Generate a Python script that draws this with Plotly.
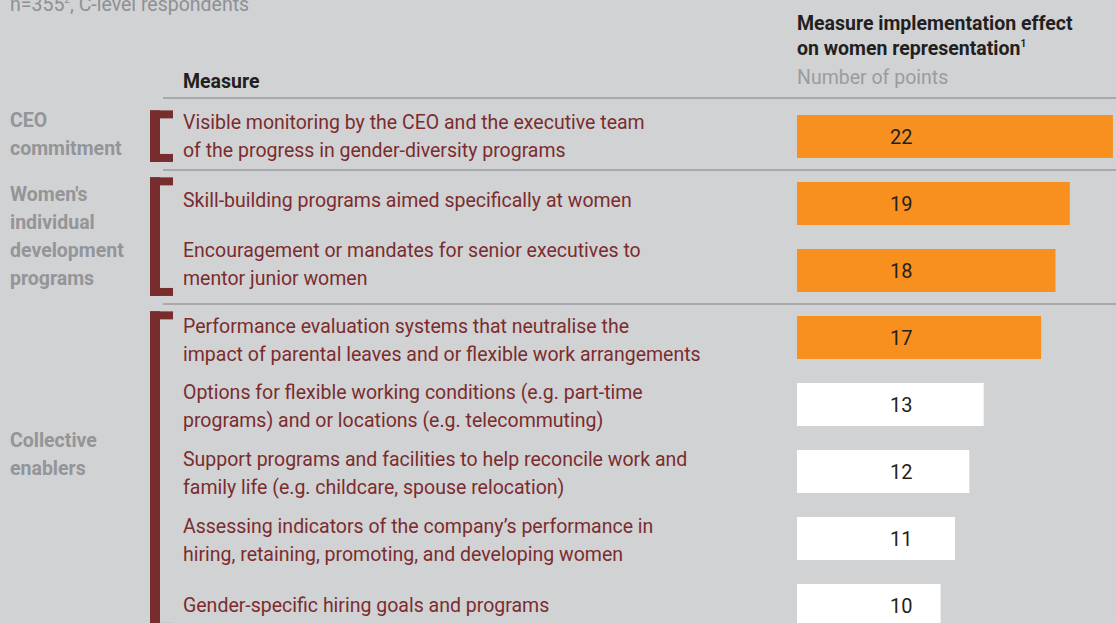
import plotly.graph_objects as go

# ---------------- data ----------------
measures = [
    "Visible monitoring by the CEO and the executive team<br>of the progress in gender-diversity programs",
    "Skill-building programs aimed specifically at women",
    "Encouragement or mandates for senior executives to<br>mentor junior women",
    "Performance evaluation systems that neutralise the<br>impact of parental leaves and or flexible work arrangements",
    "Options for flexible working conditions (e.g. part-time<br>programs) and or locations (e.g. telecommuting)",
    "Support programs and facilities to help reconcile work and<br>family life (e.g. childcare, spouse relocation)",
    "Assessing indicators of the company\u2019s performance in<br>hiring, retaining, promoting, and developing women",
    "Gender-specific hiring goals and programs",
]
points = [22, 19, 18, 17, 13, 12, 11, 10]
highlighted = [True, True, True, True, False, False, False, False]

group_names = ["CEO<br>commitment", "Women's<br>individual<br>development<br>programs", "Collective<br>enablers"]
group_first = [0, 1, 3]
group_last = [0, 2, 7]

subtitle = "n=355<sup><span style='font-size:10px'>2</span></sup>, C-level respondents"
col_header_left = "Measure"
col_header_right = ["Measure implementation effect",
                    "on women representation<sup><span style='font-size:10px'>1</span></sup>"]
col_unit = "Number of points"

# ---------------- style ----------------
W, H = 1116, 623
BG = "#d1d2d4"
ORANGE = "#f7901e"
MAROON = "#772d2e"
TEXT_MAROON = "#7b2c2e"
DARK = "#231f20"
GREY_LABEL = "#939598"
GREY_SUB = "#9a9c9f"
RULE = "#a7a9ac"
FONT = "Roboto, Arial, sans-serif"
FS = 19.5
LINE = 28                # px between text lines

L, T = 797, 103          # plot area left / top in px
PW, PH = W - L, H - T
PITCH = 67.0             # px per category
X_MAX = PW / 14.36
Y_MAX = -0.5 + PH / PITCH
label_nudge_px = [0, 3.5, 6.5, -3, -1.5, -1.5, -1.5, 0]   # visual offsets (px, + = up)
group_label_px = [134, 236, 454]


def px_x(p):
    return (p - L) / PW


def px_y(p):
    return (H - p) / PH


bar_colors = [ORANGE if h else "#ffffff" for h in highlighted]

fig = go.Figure(
    go.Bar(
        x=points,
        y=list(range(len(points))),
        orientation="h",
        marker=dict(color=bar_colors, line=dict(width=0)),
        hoverinfo="skip",
    )
)

annotations = []
shapes = []


def add_lines(text, x, y, xref, yref, font, base_shift=0, xshift=0):
    lines = text.split("<br>")
    n = len(lines)
    for k, ln in enumerate(lines):
        annotations.append(dict(x=x, y=y, xref=xref, yref=yref, text=ln, showarrow=False,
                                xanchor="left", yanchor="middle", align="left",
                                yshift=base_shift + ((n - 1) / 2 - k) * LINE, xshift=xshift,
                                font=font))


# value labels
for i, v in enumerate(points):
    annotations.append(dict(x=7.25, y=i, xref="x", yref="y", text=str(v), showarrow=False,
                            xanchor="center", yanchor="middle",
                            font=dict(family=FONT, size=20, color=DARK)))

# measure labels
for i, m in enumerate(measures):
    add_lines(m, px_x(183), i, "paper", "y", dict(family=FONT, size=FS, color=TEXT_MAROON),
              base_shift=label_nudge_px[i], xshift=-2)

# group labels and brackets
for name, a, b, ly in zip(group_names, group_first, group_last, group_label_px):
    add_lines("<br>".join("<b>" + s + "</b>" for s in name.split("<br>")), px_x(10), px_y(ly),
              "paper", "paper", dict(family=FONT, size=FS, color=GREY_LABEL), xshift=-2)
    y0, y1 = a - 0.39, b + 0.38
    shapes.append(dict(type="rect", xref="paper", yref="y", x0=px_x(150), x1=px_x(160),
                       y0=y0, y1=y1, fillcolor=MAROON, line=dict(width=0), layer="above"))
    shapes.append(dict(type="rect", xref="paper", yref="y", x0=px_x(150), x1=px_x(173),
                       y0=y0, y1=y0 + 8 / PITCH, fillcolor=MAROON, line=dict(width=0), layer="above"))
    shapes.append(dict(type="rect", xref="paper", yref="y", x0=px_x(150), x1=px_x(173),
                       y0=y1 - 8 / PITCH, y1=y1, fillcolor=MAROON, line=dict(width=0), layer="above"))

# separator rules
shapes.append(dict(type="line", xref="paper", yref="paper", x0=px_x(163), x1=1, y0=px_y(98), y1=px_y(98),
                   line=dict(color=RULE, width=2)))
for a in group_first[1:]:
    shapes.append(dict(type="line", xref="paper", yref="y", x0=px_x(163), x1=1, y0=a - 0.5, y1=a - 0.5,
                       line=dict(color=RULE, width=2)))

# headers
annotations.append(dict(x=px_x(10), y=px_y(4), xref="paper", yref="paper", text=subtitle, showarrow=False,
                        xanchor="left", yanchor="middle", xshift=-2,
                        font=dict(family=FONT, size=FS, color="#8e9093")))
annotations.append(dict(x=px_x(183), y=px_y(82), xref="paper", yref="paper", text="<b>" + col_header_left + "</b>",
                        showarrow=False, xanchor="left", yanchor="middle", xshift=-2,
                        font=dict(family=FONT, size=FS, color=DARK)))
for txt, py in zip(col_header_right, [23, 49]):
    annotations.append(dict(x=0, y=px_y(py), xref="paper", yref="paper", text="<b>" + txt + "</b>",
                            showarrow=False, xanchor="left", yanchor="middle", xshift=-2,
                            font=dict(family=FONT, size=FS, color=DARK)))
annotations.append(dict(x=0, y=px_y(78), xref="paper", yref="paper", text=col_unit, showarrow=False,
                        xanchor="left", yanchor="middle", xshift=-2,
                        font=dict(family=FONT, size=FS, color=GREY_SUB)))

fig.update_layout(
    width=W, height=H,
    margin=dict(l=L, r=0, t=T, b=0, pad=0),
    paper_bgcolor=BG, plot_bgcolor=BG,
    bargap=0.358,
    showlegend=False,
    xaxis=dict(range=[0, X_MAX], visible=False, fixedrange=True),
    yaxis=dict(range=[Y_MAX, -0.5], visible=False, fixedrange=True),
    annotations=annotations,
    shapes=shapes,
)

fig.write_html("out.html", config={"displayModeBar": False}, post_script="document.body.style.margin='0';")
